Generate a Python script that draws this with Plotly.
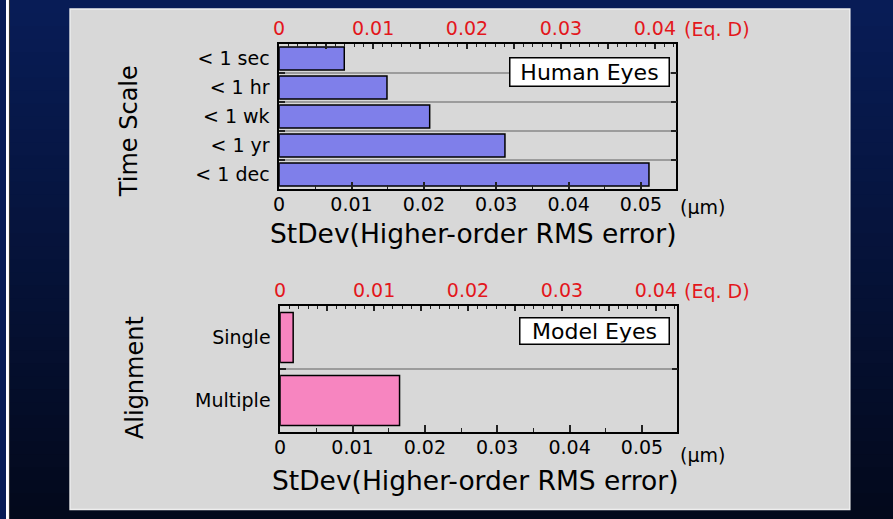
import plotly.graph_objects as go

# ---------------- data ----------------
time_cats = ["< 1 sec", "< 1 hr", "< 1 wk", "< 1 yr", "< 1 dec"]
time_vals = [0.0090, 0.0149, 0.0208, 0.0312, 0.0511]
align_cats = ["Single", "Multiple"]
align_vals = [0.0018, 0.0165]
um_ticks = [0, 0.01, 0.02, 0.03, 0.04, 0.05]
um_labels = ["0", "0.01", "0.02", "0.03", "0.04", "0.05"]
eqd_major = [0, 0.005, 0.01, 0.015, 0.02, 0.025, 0.03, 0.035, 0.04]
eqd_labels = ["0", "", "0.01", "", "0.02", "", "0.03", "", "0.04"]

# ---------------- styling ----------------
W, H = 893, 519
OX = -3  # small horizontal correction
FONT = "DejaVu Sans"
RED = "#e3171c"
BLUE = "#7f7fea"
PINK = "#f785c0"
PANEL = "#d8d8d8"
UM_RANGE = [0, 0.0549]
EQD_RANGE = [0, 0.0423]


def fx(x):
    return (x + OX) / W


def fy(y):
    return 1 - y / H


fig = go.Figure()

fig.add_trace(go.Bar(y=time_cats, x=time_vals, orientation="h", xaxis="x", yaxis="y",
                     width=0.8, marker=dict(color=BLUE, line=dict(color="black", width=1.5)),
                     showlegend=False, hoverinfo="x+y"))
fig.add_trace(go.Scatter(x=[0], y=[time_cats[0]], xaxis="x2", yaxis="y", mode="markers",
                         marker=dict(opacity=0), showlegend=False, hoverinfo="skip"))
fig.add_trace(go.Bar(y=align_cats, x=align_vals, orientation="h", xaxis="x3", yaxis="y2",
                     width=0.79, marker=dict(color=PINK, line=dict(color="black", width=1.5)),
                     showlegend=False, hoverinfo="x+y"))
fig.add_trace(go.Scatter(x=[0], y=[align_cats[0]], xaxis="x4", yaxis="y2", mode="markers",
                         marker=dict(opacity=0), showlegend=False, hoverinfo="skip"))


def um_axis(domain, anchor):
    return dict(domain=domain, anchor=anchor, range=UM_RANGE, showgrid=False, zeroline=False,
                showline=True, linecolor="black", linewidth=1.5,
                tickmode="array", tickvals=um_ticks, ticktext=um_labels,
                ticks="inside", ticklen=7, tickwidth=1.5, tickcolor="#222",
                minor=dict(ticks="inside", dtick=0.005, ticklen=4, tickwidth=1.2, tickcolor="#222"),
                tickfont=dict(family=FONT, size=19, color="black"), ticklabelstandoff=-3,
                fixedrange=True)


def eqd_axis(overlay, anchor):
    return dict(overlaying=overlay, anchor=anchor, side="top", range=EQD_RANGE, showgrid=False,
                zeroline=False, showline=True, linecolor="black", linewidth=1.5,
                tickmode="array", tickvals=eqd_major, ticktext=eqd_labels,
                ticks="inside", ticklen=5, tickwidth=1.5, tickcolor="#222",
                minor=dict(ticks="inside", dtick=0.001, ticklen=3, tickwidth=1.2, tickcolor="#222"),
                tickfont=dict(family=FONT, size=19, color=RED), ticklabelstandoff=0,
                fixedrange=True)


def cat_axis(domain, anchor):
    return dict(domain=domain, anchor=anchor, type="category", autorange="reversed",
                showline=True, linecolor="black", linewidth=1.5, mirror="ticks",
                tickson="boundaries", ticks="inside", ticklen=6, tickwidth=1.5, tickcolor="#222",
                showgrid=True, gridcolor="#9c9c9c", gridwidth=2, zeroline=False,
                tickfont=dict(family=FONT, size=19, color="black"), ticklabelstandoff=4,
                fixedrange=True)


# background gradient + panel
shapes = []
n = 40
c0 = (8, 28, 86)
c1 = (3, 9, 28)
for i in range(n):
    t = i / (n - 1)
    col = "rgb(%d,%d,%d)" % tuple(round(a + (b - a) * t) for a, b in zip(c0, c1))
    shapes.append(dict(type="rect", xref="paper", yref="paper", x0=0, x1=1,
                       y0=1 - (i + 1) / n - 0.002, y1=1 - i / n, fillcolor=col,
                       line=dict(width=0), layer="below"))
shapes.append(dict(type="rect", xref="paper", yref="paper", x0=0, x1=fx(6), y0=0, y1=1,
                   fillcolor="white", line=dict(width=0), layer="below"))
shapes.append(dict(type="rect", xref="paper", yref="paper", x0=fx(6), x1=fx(7), y0=0, y1=1,
                   fillcolor="#333333", line=dict(width=0), layer="below"))
shapes.append(dict(type="rect", xref="paper", yref="paper", x0=fx(67.5), x1=fx(852.5),
                   y0=fy(509.5), y1=fy(9), fillcolor=PANEL, line=dict(color="#eeeeee", width=1.5),
                   layer="below"))

ann = []
title = "StDev(Higher-order RMS error)"
ann.append(dict(text=title, x=fx(474), y=fy(233), xref="paper", yref="paper", showarrow=False,
                font=dict(family=FONT, size=26.5, color="black"), xanchor="center", yanchor="middle"))
ann.append(dict(text=title, x=fx(476), y=fy(480), xref="paper", yref="paper", showarrow=False,
                font=dict(family=FONT, size=26.5, color="black"), xanchor="center", yanchor="middle"))
ann.append(dict(text="Time Scale", x=fx(127), y=fy(131), xref="paper", yref="paper", showarrow=False,
                textangle=-90, font=dict(family=FONT, size=24, color="black"),
                xanchor="center", yanchor="middle"))
ann.append(dict(text="Alignment", x=fx(133), y=fy(378), xref="paper", yref="paper", showarrow=False,
                textangle=-90, font=dict(family=FONT, size=24, color="black"),
                xanchor="center", yanchor="middle"))
for yy in (207, 455):
    ann.append(dict(text="(µm)", x=fx(680), y=fy(yy), xref="paper", yref="paper", showarrow=False,
                    font=dict(family=FONT, size=19, color="black"), xanchor="left", yanchor="middle"))
for yy in (29, 291):
    ann.append(dict(text="(Eq. D)", x=fx(684), y=fy(yy), xref="paper", yref="paper", showarrow=False,
                    font=dict(family=FONT, size=19, color=RED), xanchor="left", yanchor="middle"))
ann.append(dict(text="Human Eyes", x=fx(590.5), y=fy(72), xref="paper", yref="paper", showarrow=False,
                font=dict(family=FONT, size=22, color="black"), bgcolor="white",
                bordercolor="black", borderwidth=1.5, borderpad=1, width=156, height=25,
                xanchor="center", yanchor="middle"))
ann.append(dict(text="Model Eyes", x=fx(595.5), y=fy(330.5), xref="paper", yref="paper", showarrow=False,
                font=dict(family=FONT, size=22, color="black"), bgcolor="white",
                bordercolor="black", borderwidth=1.5, borderpad=1, width=146, height=23,
                xanchor="center", yanchor="middle"))

fig.update_layout(
    width=W, height=H, margin=dict(l=0, r=0, t=0, b=0),
    paper_bgcolor="#081c56", plot_bgcolor="rgba(0,0,0,0)",
    xaxis=um_axis([fx(278), fx(678)], "y"),
    xaxis2=eqd_axis("x", "y"),
    yaxis=cat_axis([fy(189), fy(44)], "x"),
    xaxis3=um_axis([fx(279), fx(679)], "y2"),
    xaxis4=eqd_axis("x3", "y2"),
    yaxis2=cat_axis([fy(432), fy(306)], "x3"),
    shapes=shapes, annotations=ann, bargap=0.2,
)

fig.write_html("out.html", config={"displayModeBar": False},
               post_script="document.body.style.margin='0';document.body.style.padding='0';"
                           "document.body.style.overflow='hidden';")
